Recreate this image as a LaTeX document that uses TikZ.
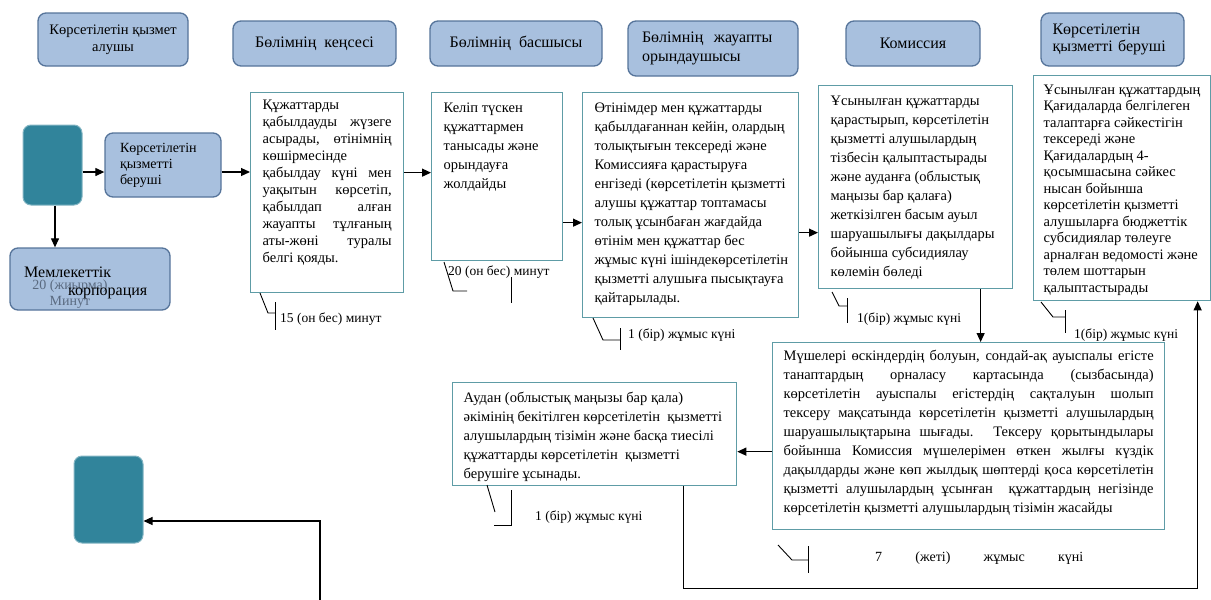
\documentclass[tikz,border=0pt]{standalone}
\usepackage{fontspec}
\setmainfont{Liberation Serif}
\usetikzlibrary{arrows.meta}
\definecolor{tealfill}{HTML}{31849B}
\definecolor{hdrfill}{HTML}{A8C0DE}
\definecolor{hdrline}{HTML}{56749A}
\definecolor{boxline}{HTML}{5E9CA6}
\definecolor{notegray}{HTML}{5A6A80}
\newcommand{\cellpar}[3]{\parbox[c][#2][t]{#1}{#3}}

\begin{document}
\begin{tikzpicture}[x=1pt,y=-1pt]
\tikzstyle{hdr}=[draw=hdrline, fill=hdrfill, line width=1.3pt, rounded corners=8pt, font=\fontsize{16}{19}\selectfont]
\tikzstyle{tealbox}=[draw=tealfill!60!white, fill=tealfill, line width=1pt, rounded corners=8pt]
\tikzstyle{txtbox}=[draw=boxline, line width=1.3pt, anchor=north west, inner xsep=12pt, inner ysep=7pt, font=\fontsize{14.5}{19}\selectfont]
\tikzstyle{arr}=[line width=1.2pt, -{Triangle[length=9pt,width=8pt]}]
\tikzstyle{note}=[anchor=west, inner sep=0pt, font=\fontsize{13.5}{16}\selectfont]
\tikzstyle{hook}=[line width=0.9pt]

\useasboundingbox (0,0) rectangle (1211,600);

% lane headers
\node[hdr, minimum width=150pt, minimum height=53pt, align=center, font=\fontsize{14.5}{17}\selectfont] (h1) at (113,39.5) {Көрсетілетін қызмет\\алушы};
\node[hdr, minimum width=163pt, minimum height=45pt] (h2) at (314.5,43.5) {Бөлімнің\ \ кеңсесі};
\node[hdr, minimum width=172pt, minimum height=45pt] (h3) at (516,43.5) {Бөлімнің\ \ басшысы};
\node[hdr, minimum width=170pt, minimum height=55pt, text width=142pt, align=left] (h4) at (713,48.5) {Бөлімнің\ \ жауапты\\орындаушысы};
\node[hdr, minimum width=134pt, minimum height=45pt] (h5) at (913,43.5) {Комиссия};
\node[hdr, minimum width=143pt, minimum height=53pt, text width=120pt, align=left, font=\fontsize{16}{17}\selectfont] (h6) at (1112.5,39.5) {Көрсетілетін\\қызметті беруші};

% start and end
\node[tealbox, minimum width=59pt, minimum height=80pt] (t1) at (52.5,165) {};
\node[tealbox, minimum width=69pt, minimum height=87pt] (t2) at (108.5,499.5) {};
\node[hdr, minimum width=116pt, minimum height=64pt, text width=86pt, align=left, font=\fontsize{14}{16}\selectfont] (kb) at (163,165) {Көрсетілетін\\қызметті\\беруші};
\node[hdr, minimum width=160pt, minimum height=62pt] (gk) at (90,279) {};
\node[font=\fontsize{14}{16}\selectfont, text=notegray, align=center, inner sep=0pt] (gkmin) at (70,294) {20 (жиырма)\\Минут};
\node[font=\fontsize{16}{18}\selectfont, align=left, anchor=base west, inner sep=0pt] (gkname) at (24,295) {Мемлекеттік\\\hspace*{44pt}корпорация};

% steps
\node[txtbox, font=\fontsize{14.5}{17}\selectfont] (b1) at (250,92) {\cellpar{129pt}{186pt}{Құжаттарды\\ қабылдауды жүзеге\linebreak асырады, өтінімнің\linebreak көшірмесінде\\ қабылдау күні мен\linebreak уақытын көрсетіп,\linebreak қабылдап алған\linebreak жауапты тұлғаның\linebreak аты-жөні туралы\linebreak белгі қояды.}};
\node[txtbox] (b2) at (431,92) {\cellpar{107pt}{154pt}{\begin{tabular}{@{}l@{}}Келіп түскен\\құжаттармен\\танысады және\\орындауға\\жолдайды\end{tabular}}};
\node[txtbox] (b3) at (582,92) {\cellpar{192pt}{211pt}{\begin{tabular}{@{}l@{}}Өтінімдер мен құжаттарды\\қабылдағаннан кейін, олардың\\толықтығын тексереді және\\Комиссияға қарастыруға\\енгізеді (көрсетілетін қызметті\\алушы құжаттар топтамасы\\толық ұсынбаған жағдайда\\өтінім мен құжаттар бес\\жұмыс күні ішіндекөрсетілетін\\қызметті алушыға пысықтауға\\қайтарылады.\end{tabular}}};
\node[txtbox] (b4) at (818,85) {\cellpar{170pt}{189pt}{\begin{tabular}{@{}l@{}}Ұсынылған құжаттарды\\қарастырып, көрсетілетін\\қызметті алушылардың\\тізбесін қалыптастырады\\және ауданға (облыстық\\маңызы бар қалаға)\\жеткізілген басым ауыл\\шаруашылығы дақылдары\\бойынша субсидиялау\\көлемін бөледі\end{tabular}}};
\node[txtbox, inner xsep=10pt, font=\fontsize{14.5}{16.5}\selectfont] (b5) at (1033,75) {\cellpar{157pt}{211pt}{\begin{tabular}{@{}l@{}}Ұсынылған құжаттардың\\Қағидаларда белгілеген\\талаптарға сәйкестігін\\тексереді және\\Қағидалардың 4-\\қосымшасына сәйкес\\нысан бойынша\\көрсетілетін қызметті\\алушыларға бюджеттік\\субсидиялар төлеуге\\арналған ведомості және\\төлем шоттарын\\қалыптастырады\end{tabular}}};
\node[txtbox, inner xsep=11pt] (b6) at (772,342) {\cellpar{370pt}{173pt}{Мүшелері өскіндердің болуын, сондай-ақ ауыспалы егісте\linebreak танаптардың орналасу картасында (сызбасында)\linebreak көрсетілетін ауыспалы егістердің сақталуын шолып\linebreak тексеру мақсатында көрсетілетін қызметті алушылардың\linebreak шаруашылықтарына шығады. Тексеру қорытындылары\linebreak бойынша Комиссия мүшелерімен өткен жылғы күздік\linebreak дақылдарды және көп жылдық шөптерді қоса көрсетілетін\linebreak қызметті алушылардың ұсынған \ құжаттардың негізінде\linebreak көрсетілетін қызметті алушылардың тізімін жасайды}};
\node[txtbox, inner xsep=11pt] (b7) at (452,382) {\cellpar{262pt}{89pt}{\begin{tabular}{@{}l@{}}Аудан (облыстық маңызы бар қала)\\әкімінің бекітілген көрсетілетін \ қызметті\\алушылардың тізімін және басқа тиесілі\\құжаттарды көрсетілетін \ қызметті\\берушіге ұсынады.\end{tabular}}};

% connectors
\draw[arr] ([yshift=-7pt]t1.east) -- ([yshift=-7pt]t1.east -| kb.west);
\draw[arr] ([xshift=2.5pt]t1.south) -- ([xshift=2.5pt]t1.south |- gk.north);
\draw[arr] ([yshift=-7pt]kb.east) -- ([yshift=-7pt]kb.east -| b1.west);
\draw[arr] ([yshift=20pt]b1.east) -- ([yshift=20pt]b1.east -| b2.west);
\draw[arr] ([yshift=-46pt]b2.east) -- ([yshift=-46pt]b2.east -| b3.west);
\draw[arr] ([yshift=-27.5pt]b3.east) -- ([yshift=-27.5pt]b3.east -| b4.west);
\draw[arr] ([xshift=65pt]b4.south) -- ([xshift=65pt]b4.south |- b6.north);
\draw[arr] ([yshift=-15.5pt]b6.west) -- ([yshift=-15.5pt]b6.west -| b7.east);
\draw[arr] ([xshift=89pt]b7.south) -- ++(0,102) -| ([xshift=75.5pt]b5.south);
\coordinate (fe) at (320,600);
\draw[arr] (fe) |- ([yshift=-21.5pt]t2.east);

% time callouts
\draw[hook] (260,293) -- (268,313) -- (275,313);
\draw[hook] (275,302) -- (275,330);
\node[note] (n1) at (280,319) {15 (он бес) минут};
\draw[hook] (444,262) -- (453,291) -- (467,291);
\draw[hook] (511,277) -- (511,303);
\node[note] (n2) at (448,272) {20 (он бес) минут};
\draw[hook] (593,318) -- (603,340) -- (620,340);
\draw[hook] (620,328) -- (620,350);
\node[note] (n3) at (628,335) {1 (бір) жұмыс күні};
\draw[hook] (832,292) -- (839,306) -- (847,306);
\draw[hook] (847,298) -- (847,323);
\node[note] (n4) at (857,319) {1(бір) жұмыс күні};
\draw[hook] (1041,302) -- (1053,317) -- (1065,317);
\draw[hook] (1065,310) -- (1065,333);
\node[note] (n5) at (1074,335) {1(бір) жұмыс күні};
\draw[hook] (778,545) -- (792,560) -- (808,560);
\draw[hook] (808,546) -- (808,573);
\node[note, font=\fontsize{14}{16}\selectfont] (n6) at (875,558) {\makebox[208pt][s]{7 (жеті) жұмыс күні}};
\draw[hook] (487,485) -- (495,512);
\draw[hook] (494,525) -- (512,525);
\draw[hook] (511,490) -- (511,525);
\node[note] (n7) at (535,517) {1 (бір) жұмыс күні};
\end{tikzpicture}
\end{document}
